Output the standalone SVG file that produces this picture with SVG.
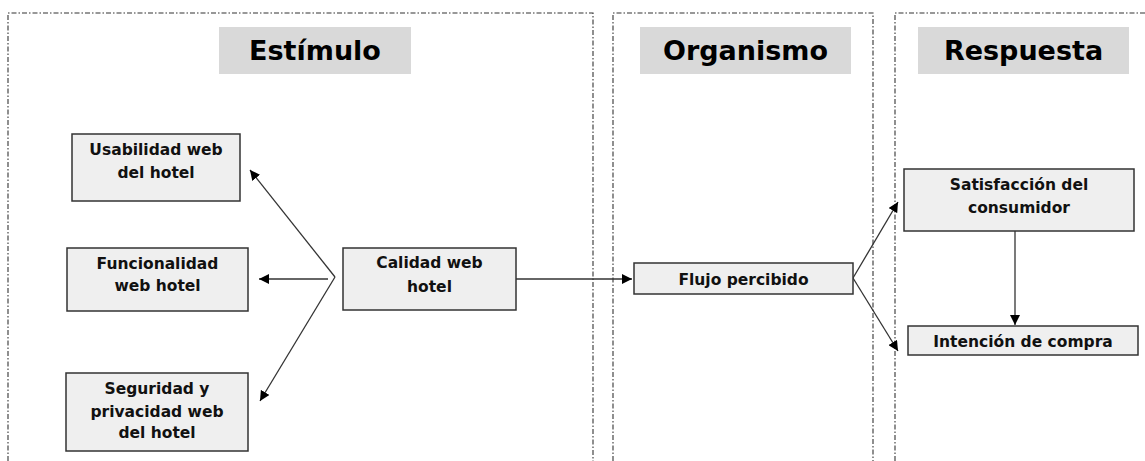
<svg xmlns="http://www.w3.org/2000/svg" width="1145" height="461" viewBox="0 0 1145 461">
<style>
.panel{fill:none;stroke:#333;stroke-width:1.1;stroke-dasharray:5 2 1.5 2}
.title{fill:#d9d9d9}
.tt{font-family:"DejaVu Sans",Verdana,sans-serif;font-weight:bold;font-size:27px;fill:#000;text-anchor:middle}
.box{fill:#efefef;stroke:#333;stroke-width:1.5}
.nt{font-family:"DejaVu Sans",Verdana,sans-serif;font-weight:bold;font-size:15.5px;fill:#111;text-anchor:middle}
.con{fill:none;stroke:#333;stroke-width:1.3}
</style>
<defs>
<marker id="ah" viewBox="0 0 10 10" refX="10" refY="5" markerWidth="10" markerHeight="10" markerUnits="userSpaceOnUse" orient="auto">
<path d="M0,0 L10,5 L0,10 z" fill="#000"/>
</marker>
</defs>
<rect width="1145" height="461" fill="#fff"/>
<g id="panels">
<path class="panel" d="M8,461 V13 H593 V461"/>
<path class="panel" d="M613,461 V13 H873 V461"/>
<path class="panel" d="M895,461 V13 H1145"/>
</g>
<g id="title-estimulo"><rect class="title" x="219" y="27" width="192" height="47"/><text class="tt" x="315" y="60">Estímulo</text></g>
<g id="title-organismo"><rect class="title" x="640" y="27" width="211" height="47"/><text class="tt" x="745.5" y="60">Organismo</text></g>
<g id="title-respuesta"><rect class="title" x="918" y="27" width="211" height="47"/><text class="tt" x="1023.5" y="60">Respuesta</text></g>
<g id="connectors">
<path class="con" d="M335,277 L250,170" marker-end="url(#ah)"/>
<path class="con" d="M328,279 L259,279" marker-end="url(#ah)"/>
<path class="con" d="M335,277 L260,401" marker-end="url(#ah)"/>
<path class="con" d="M516,279 L632,279" marker-end="url(#ah)"/>
<path class="con" d="M853,278 L898,202" marker-end="url(#ah)"/>
<path class="con" d="M853,278 L898,351" marker-end="url(#ah)"/>
<path class="con" d="M1015,231 L1015,325" marker-end="url(#ah)"/>
</g>
<g id="usabilidad"><rect class="box" x="72" y="134" width="168" height="67"/><text class="nt" x="156" y="155">Usabilidad web</text><text class="nt" x="156" y="178">del hotel</text></g>
<g id="funcionalidad"><rect class="box" x="67" y="248" width="181" height="63"/><text class="nt" x="157.5" y="269">Funcionalidad</text><text class="nt" x="157.5" y="291">web hotel</text></g>
<g id="seguridad"><rect class="box" x="66" y="373" width="182" height="78"/><text class="nt" x="157" y="394">Seguridad y</text><text class="nt" x="157" y="417">privacidad web</text><text class="nt" x="157" y="438">del hotel</text></g>
<g id="calidad"><rect class="box" x="343" y="248" width="173" height="62"/><text class="nt" x="429.5" y="268">Calidad web</text><text class="nt" x="429.5" y="292">hotel</text></g>
<g id="flujo"><rect class="box" x="634" y="263" width="219" height="31"/><text class="nt" x="743.5" y="285">Flujo percibido</text></g>
<g id="satisfaccion"><rect class="box" x="904" y="169" width="230" height="62"/><text class="nt" x="1019" y="190">Satisfacción del</text><text class="nt" x="1019" y="213">consumidor</text></g>
<g id="intencion"><rect class="box" x="908" y="326" width="230" height="29"/><text class="nt" x="1023" y="347">Intención de compra</text></g>
</svg>
